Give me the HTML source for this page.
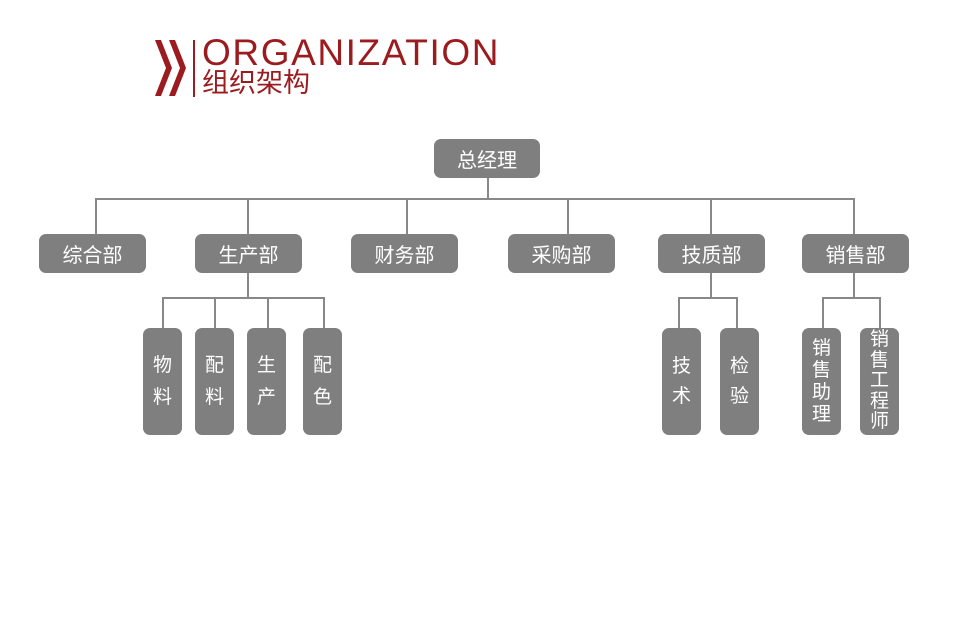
<!DOCTYPE html>
<html><head><meta charset="utf-8"><style>
body{margin:0;width:964px;height:617px;background:#fff;position:relative;overflow:hidden;font-family:"Liberation Sans","Noto Sans CJK SC",sans-serif}
.b{position:absolute;background:#7f7f7f;color:#fff;border-radius:7px;display:flex;align-items:center;justify-content:center;font-size:20px}
.d{top:234px;width:107px;height:39px}
.s{top:328px;width:39px;height:107px;flex-direction:column;font-size:19px;line-height:32px}
.l{position:absolute;background:#888}
</style></head><body>
<svg style="position:absolute;left:150px;top:36px" width="50" height="66">
<polygon points="5,4 11,4 22,32 11,60 5,60 16,32" fill="#9b1b1f"/>
<polygon points="19,4 25,4 36,32 25,60 19,60 30,32" fill="#9b1b1f"/>
<rect x="43" y="4" width="2" height="57" fill="#9b1b1f"/>
</svg>
<div style="position:absolute;left:202px;top:33px;font-size:37px;color:#9b1b1f;letter-spacing:1.6px;line-height:40px">ORGANIZATION</div>
<div style="position:absolute;left:202px;top:67px;font-size:27px;color:#9b1b1f;line-height:32px">组织架构</div>

<div class="b" style="left:434px;top:139px;width:106px;height:39px">总经理</div>
<div class="l" style="left:487px;top:178px;width:2px;height:22px"></div>
<div class="l" style="left:95px;top:198px;width:760px;height:2px"></div>
<div class="l" style="left:95px;top:198px;width:2px;height:36px"></div>
<div class="l" style="left:247px;top:198px;width:2px;height:36px"></div>
<div class="l" style="left:406px;top:198px;width:2px;height:36px"></div>
<div class="l" style="left:567px;top:198px;width:2px;height:36px"></div>
<div class="l" style="left:710px;top:198px;width:2px;height:36px"></div>
<div class="l" style="left:853px;top:198px;width:2px;height:36px"></div>

<div class="b d" style="left:39px">综合部</div>
<div class="b d" style="left:195px">生产部</div>
<div class="b d" style="left:351px">财务部</div>
<div class="b d" style="left:508px">采购部</div>
<div class="b d" style="left:658px">技质部</div>
<div class="b d" style="left:802px">销售部</div>

<div class="l" style="left:247px;top:273px;width:2px;height:25px"></div>
<div class="l" style="left:162px;top:297px;width:163px;height:2px"></div>
<div class="l" style="left:162px;top:297px;width:2px;height:31px"></div>
<div class="l" style="left:214px;top:297px;width:2px;height:31px"></div>
<div class="l" style="left:267px;top:297px;width:2px;height:31px"></div>
<div class="l" style="left:323px;top:297px;width:2px;height:31px"></div>

<div class="l" style="left:710px;top:273px;width:2px;height:25px"></div>
<div class="l" style="left:678px;top:297px;width:60px;height:2px"></div>
<div class="l" style="left:678px;top:297px;width:2px;height:31px"></div>
<div class="l" style="left:736px;top:297px;width:2px;height:31px"></div>

<div class="l" style="left:853px;top:273px;width:2px;height:25px"></div>
<div class="l" style="left:822px;top:297px;width:59px;height:2px"></div>
<div class="l" style="left:822px;top:297px;width:2px;height:31px"></div>
<div class="l" style="left:879px;top:297px;width:2px;height:31px"></div>

<div class="b s" style="left:143px"><span>物</span><span>料</span></div>
<div class="b s" style="left:195px"><span>配</span><span>料</span></div>
<div class="b s" style="left:247px"><span>生</span><span>产</span></div>
<div class="b s" style="left:303px"><span>配</span><span>色</span></div>
<div class="b s" style="left:662px;line-height:30px"><span>技</span><span>术</span></div>
<div class="b s" style="left:720px;line-height:30px"><span>检</span><span>验</span></div>
<div class="b s" style="left:802px;line-height:22px"><span>销</span><span>售</span><span>助</span><span>理</span></div>
<div class="b s" style="left:860px;line-height:20.5px"><span>销</span><span>售</span><span>工</span><span>程</span><span>师</span></div>
</body></html>
